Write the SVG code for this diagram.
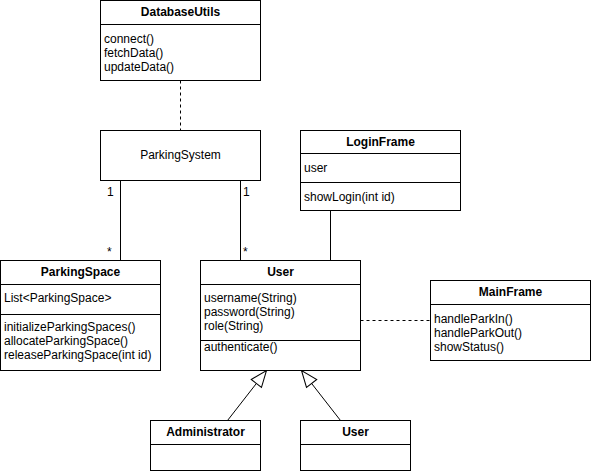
<svg xmlns="http://www.w3.org/2000/svg" width="592" height="472" viewBox="0 0 592 472">
<style>
.box{fill:#fff;stroke:#000;stroke-width:1}
.sep{stroke:#000;stroke-width:1}
text{font-family:"Liberation Sans",Arial,Helvetica,sans-serif;font-size:12px;fill:#000}
.t{font-weight:bold;text-anchor:middle}
.c{text-anchor:middle}
.e{fill:none;stroke:#000;stroke-width:1}
.d{stroke-dasharray:3 3}
</style>
<defs>
<marker id="tri" markerUnits="userSpaceOnUse" markerWidth="18" markerHeight="16" refX="17" refY="7" orient="auto" viewBox="0 0 18 14" overflow="visible">
<path d="M0.5,0.5 L17,7 L0.5,13.5 Z" fill="#fff" stroke="#000" stroke-width="1"/>
</marker>
</defs>
<rect width="592" height="472" fill="#fff"/>
<g id="connectors">
<line class="e d" x1="180.5" y1="80.5" x2="180.5" y2="130.5"/>
<line class="e" x1="120.5" y1="180.5" x2="120.5" y2="260.5"/>
<line class="e" x1="240.5" y1="180.5" x2="240.5" y2="260.5"/>
<line class="e" x1="330.5" y1="210.5" x2="330.5" y2="260.5"/>
<line class="e d" x1="360.5" y1="320.5" x2="430.5" y2="320.5"/>
<line class="e" x1="227.5" y1="420.5" x2="266.5" y2="370.5" marker-end="url(#tri)"/>
<line class="e" x1="340.5" y1="420.5" x2="301.5" y2="370.5" marker-end="url(#tri)"/>
<text x="107" y="196">1</text>
<text x="107" y="256">*</text>
<text x="243" y="196">1</text>
<text x="243" y="256">*</text>
</g>
<g id="DatabaseUtils">
<rect class="box" x="100.5" y="0.5" width="160" height="80"/>
<line class="sep" x1="100.5" y1="24.5" x2="260.5" y2="24.5"/>
<text class="t" x="180.5" y="16">DatabaseUtils</text>
<text x="104" y="43">connect()</text>
<text x="104" y="57">fetchData()</text>
<text x="104" y="71">updateData()</text>
</g>
<g id="ParkingSystem">
<rect class="box" x="100.5" y="130.5" width="160" height="50"/>
<text class="c" x="180.5" y="159">ParkingSystem</text>
</g>
<g id="LoginFrame">
<rect class="box" x="300.5" y="130.5" width="160" height="80"/>
<line class="sep" x1="300.5" y1="153.5" x2="460.5" y2="153.5"/>
<line class="sep" x1="300.5" y1="182.5" x2="460.5" y2="182.5"/>
<text class="t" x="380.5" y="146">LoginFrame</text>
<text x="304" y="172">user</text>
<text x="304" y="201">showLogin(int id)</text>
</g>
<g id="ParkingSpace">
<rect class="box" x="0.5" y="260.5" width="160" height="110"/>
<line class="sep" x1="0.5" y1="284.5" x2="160.5" y2="284.5"/>
<line class="sep" x1="0.5" y1="314.5" x2="160.5" y2="314.5"/>
<text class="t" x="80.5" y="276">ParkingSpace</text>
<text x="4" y="302">List&lt;ParkingSpace&gt;</text>
<text x="4" y="331">initializeParkingSpaces()</text>
<text x="4" y="345">allocateParkingSpace()</text>
<text x="4" y="359">releaseParkingSpace(int id)</text>
</g>
<g id="User">
<rect class="box" x="200.5" y="260.5" width="160" height="110"/>
<line class="sep" x1="200.5" y1="284.5" x2="360.5" y2="284.5"/>
<line class="sep" x1="200.5" y1="340.5" x2="360.5" y2="340.5"/>
<text class="t" x="280.5" y="276">User</text>
<text x="204" y="302">username(String)</text>
<text x="204" y="316">password(String)</text>
<text x="204" y="330">role(String)</text>
<text x="204" y="351">authenticate()</text>
</g>
<g id="MainFrame">
<rect class="box" x="430.5" y="280.5" width="160" height="80"/>
<line class="sep" x1="430.5" y1="304.5" x2="590.5" y2="304.5"/>
<text class="t" x="510.5" y="296">MainFrame</text>
<text x="434" y="323">handleParkIn()</text>
<text x="434" y="337">handleParkOut()</text>
<text x="434" y="351">showStatus()</text>
</g>
<g id="Administrator">
<rect class="box" x="150.5" y="420.5" width="110" height="50"/>
<line class="sep" x1="150.5" y1="444.5" x2="260.5" y2="444.5"/>
<text class="t" x="205.5" y="436">Administrator</text>
</g>
<g id="User2">
<rect class="box" x="300.5" y="420.5" width="110" height="50"/>
<line class="sep" x1="300.5" y1="444.5" x2="410.5" y2="444.5"/>
<text class="t" x="355.5" y="436">User</text>
</g>
</svg>
